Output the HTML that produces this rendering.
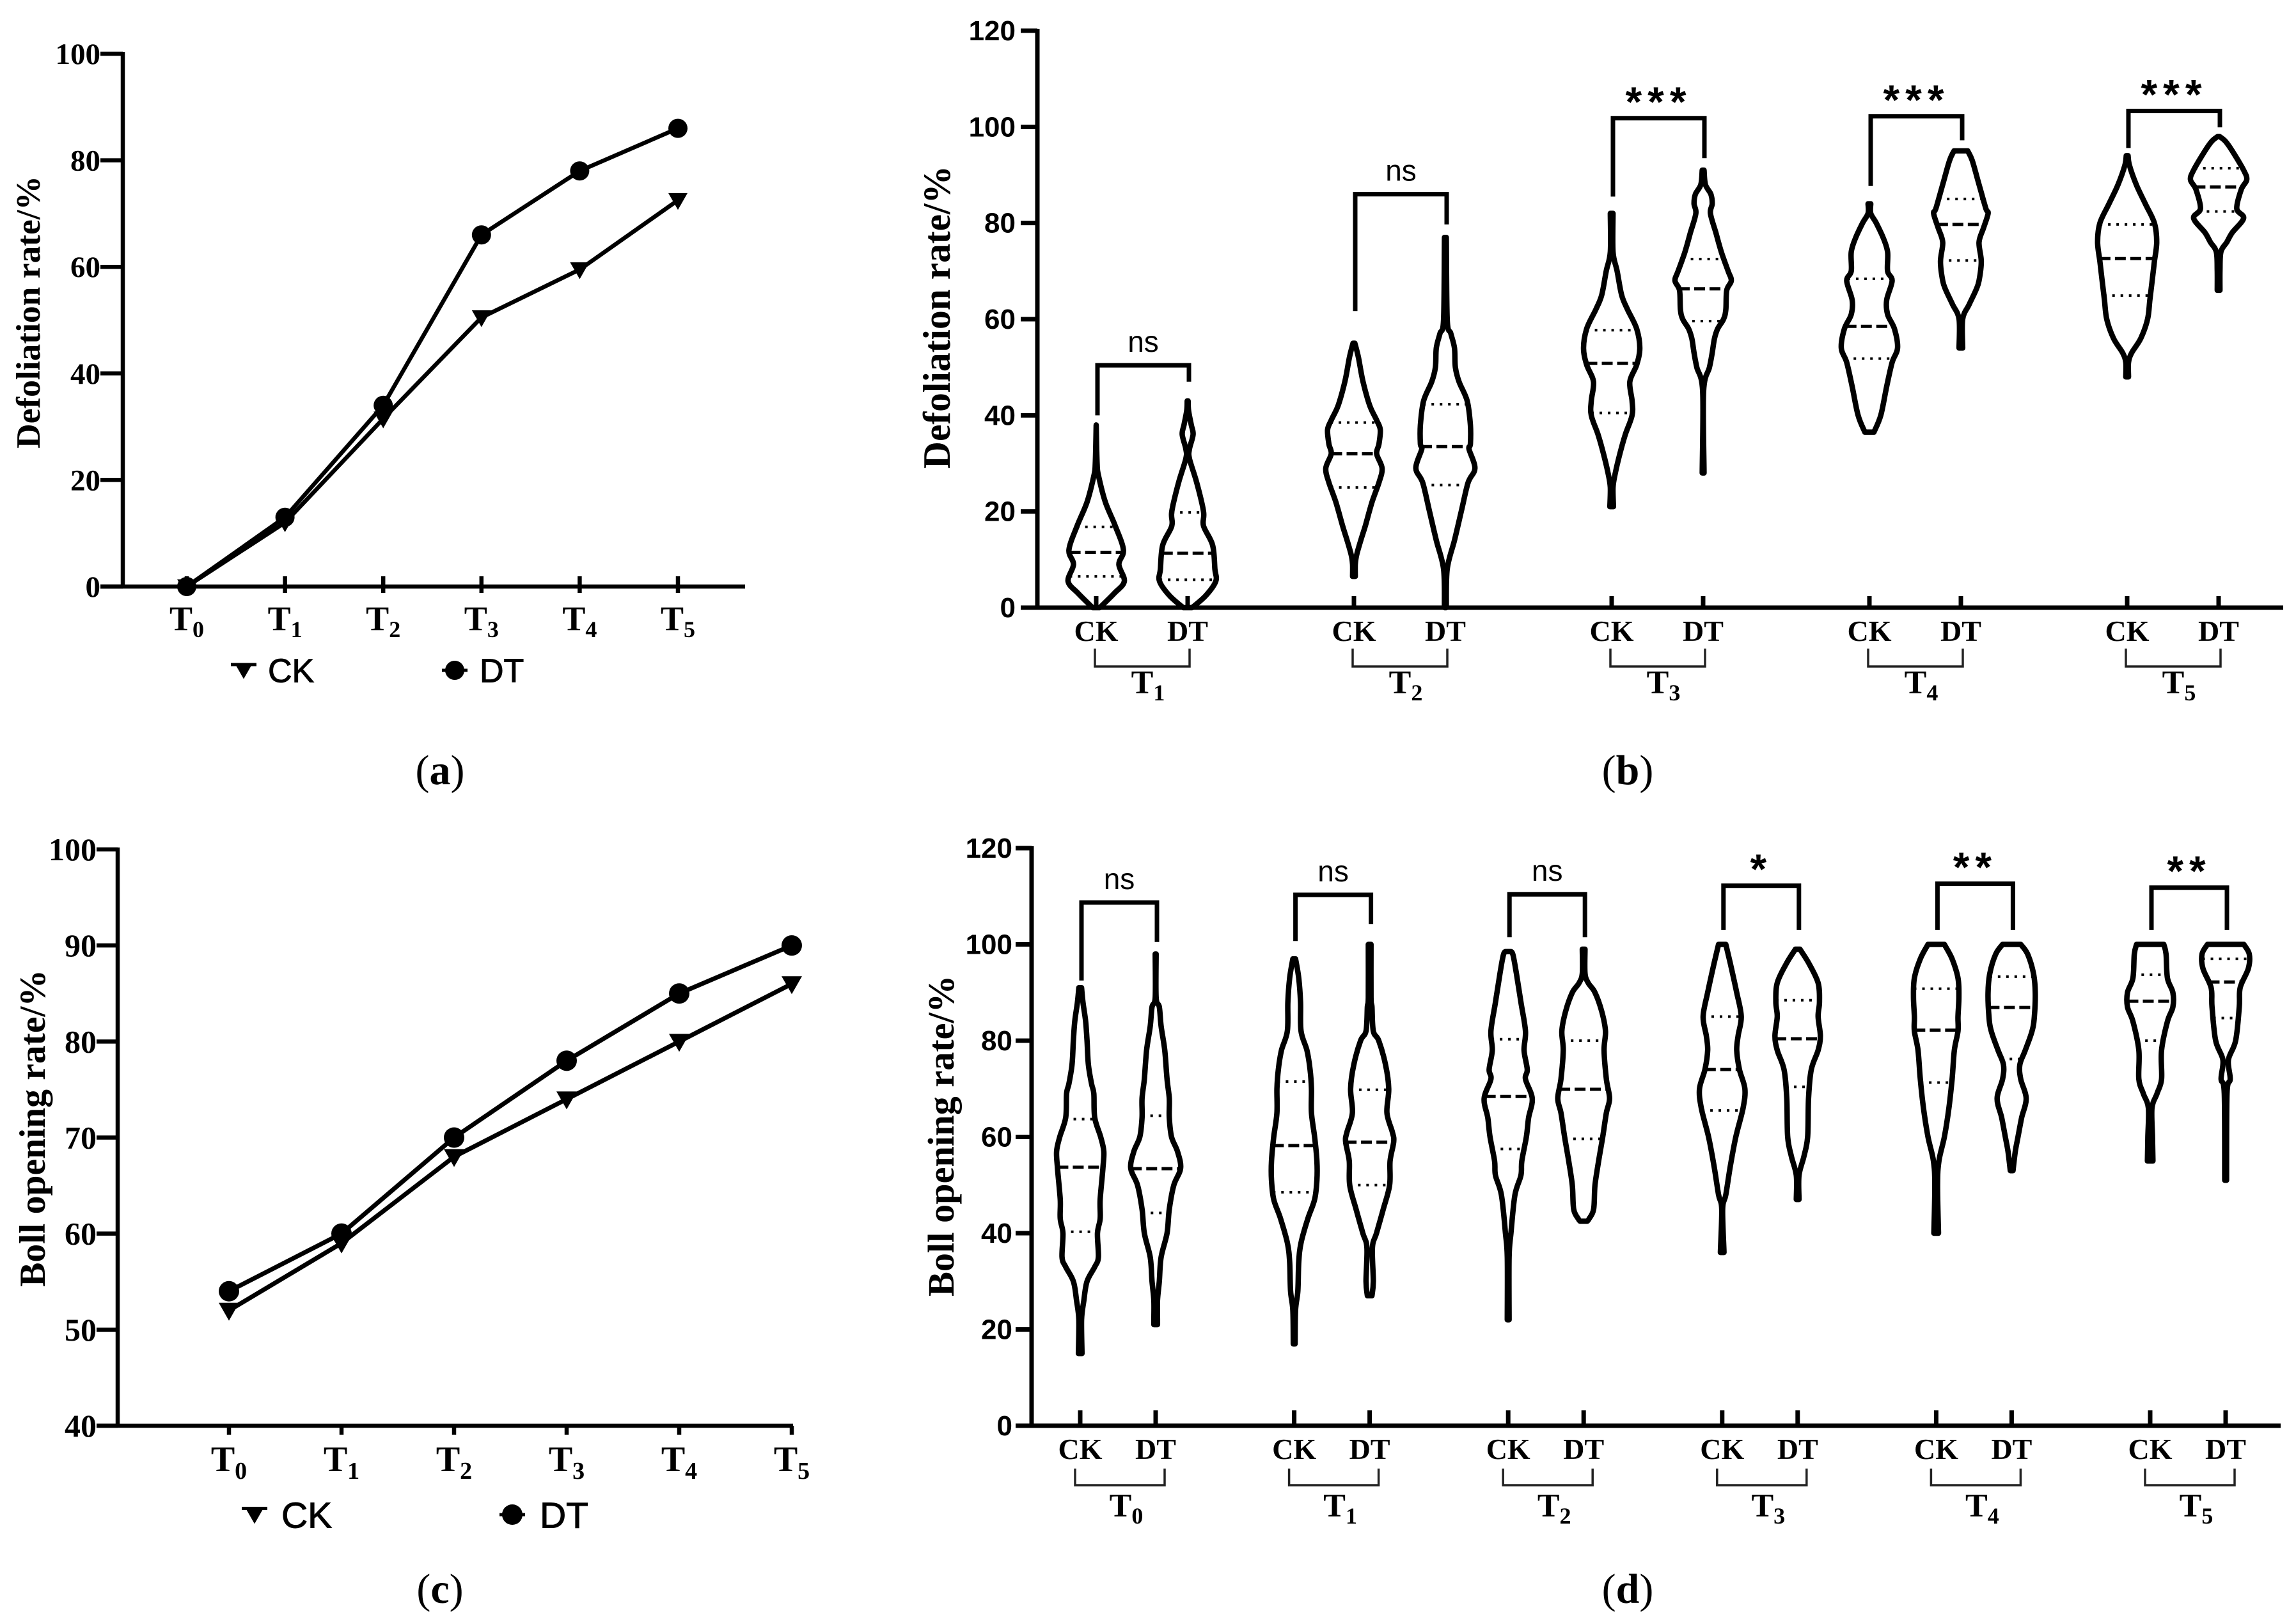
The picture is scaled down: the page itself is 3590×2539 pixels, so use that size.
<!DOCTYPE html>
<html lang="en">
<head>
<meta charset="utf-8">
<title>Defoliation and boll opening rates</title>
<style>
html,body{margin:0;padding:0;background:#fff}
svg{display:block}
text{fill:#000}
.serif{font-family:"Liberation Serif",serif}
.sans{font-family:"Liberation Sans",sans-serif}
</style>
</head>
<body>
<svg id="figure" xmlns="http://www.w3.org/2000/svg" width="3590" height="2539" viewBox="0 0 3590 2539">
  <rect width="3590" height="2539" fill="#fff"/>
  <g id="panel-a"></g>
  <g id="panel-b"></g>
  <g id="panel-c"></g>
  <g id="panel-d"></g>
  <text class="serif" x="688" y="1226" font-size="66" text-anchor="middle">(<tspan font-weight="bold">a</tspan>)</text>
  <text class="serif" x="2545" y="1226" font-size="66" text-anchor="middle">(<tspan font-weight="bold">b</tspan>)</text>
  <text class="serif" x="688" y="2506" font-size="66" text-anchor="middle">(<tspan font-weight="bold">c</tspan>)</text>
  <text class="serif" x="2545" y="2506" font-size="66" text-anchor="middle">(<tspan font-weight="bold">d</tspan>)</text>
</svg>
<script>
/* ---------- Panel a data ---------- */
const aCategories = ['T0','T1','T2','T3','T4','T5'];
const aCK = [0,12,31.5,50.5,59.5,72.5];
const aDT = [0,13,34,66,78,86];
const aYTicks = [0,20,40,60,80,100];

/* ---------- Panel c data ---------- */
const cCategories = ['T0','T1','T2','T3','T4','T5'];
const cCK = [52,59,68,74,80,86];
const cDT = [54,60,70,78,85,90];
const cYTicks = [40,50,60,70,80,90,100];

/* ---------- Panel b data ---------- */
const bGroups = ['T1','T2','T3','T4','T5'];
const bTreatments = ['CK','DT'];
const bYTicks = [0,20,40,60,80,100,120];
const bSignificance = ['ns','ns','***','***','***'];
const bBracketTop = [50.4,86,101.8,102.2,103.3];
const bBracketCKEnd = [40,61.7,85.5,87.7,95.6];
const bBracketDTEnd = [47,79.7,93.5,97.2,99.9];
const bQuartiles = [
  [6.5,11.5,16.8],[5.8,11.3,19.8],
  [25,32,38.5],[25.5,33.5,42.3],
  [40.5,50.8,57.7],[59.6,66.3,72.5],
  [51.8,58.5,68.4],[72.2,79.7,85],
  [64.9,72.6,79.7],[82.4,87.5,91.4]
];
const bLevels = [
  [38,30,27.5,22,17,12,9,5.5,3,0],
  [43,41,38,36,33,31,26,20,17,13,8,5.5,2.5,0],
  [55,52,47,42,39,37,34,32,29,26,22,17,14,11,9,6.5],
  [77,60,57,54,50,47,43,38,34,33,29,26,20,14,8,0],
  [82,74,70,65,62,58,54,50.5,47,43,40,36,32,28,25,21],
  [91,88,86,84,82,78,74,70,68,66,62,60,58,56,53,50,45,28],
  [84,82,80,77,74,70,68,64,61,58,54,51,46,40,36.5],
  [95,93,88,83,82,79,76,72,68,66,63,60,54],
  [94,92,88,84,80,76,72,68,64,60,56,53,51,48],
  [98,97,95,91,89,87,83,81,78,76,74,70,66]
];
const bDensity = [
  [0,2,5,20,42,60,50,62,40,8],
  [1,2,8,12,4,4,20,35,35,55,60,62,40,10],
  [2,10,20,35,50,58,55,50,62,55,40,25,15,6,3,3],
  [2,4,12,20,22,30,48,55,55,52,65,50,35,20,4,2],
  [3,3,12,22,35,55,62,55,40,45,45,30,18,8,3,4],
  [2,5,17,20,16,28,40,55,62,52,50,45,32,25,20,14,1,2],
  [3,3,15,30,40,40,50,38,40,55,62,50,38,25,10],
  [15,25,40,55,60,50,40,45,40,33,18,4,4],
  [2,5,20,40,60,65,60,55,50,45,30,10,3,3],
  [2,15,30,55,62,50,40,55,30,18,5,3,3]
];

/* ---------- Panel d data ---------- */
const dGroups = ['T0','T1','T2','T3','T4','T5'];
const dTreatments = ['CK','DT'];
const dYTicks = [0,20,40,60,80,100,120];
const dSignificance = ['ns','ns','ns','*','**','**'];
const dBracketTop = [108.7,110.3,110.4,112.2,112.6,111.8];
const dBracketCKEnd = [92.5,100.7,101.5,103,103,103];
const dBracketDTEnd = [100.5,104.2,101.5,103,103,103];
const dQuartiles = [
  [40.3,53.7,63.7],[44.2,53.4,64.4],
  [48.5,58.2,71.5],[50,58.9,69.8],
  [57.5,68.4,80.3],[59.6,69.9,80],
  [65.5,74,85],[70.4,80.4,88.4],
  [71.3,82.2,90.8],[76.2,86.9,93.3],
  [80,88.2,93.7],[84.7,92.2,97]
];
const dLevels = [
  [91,88,84,80,75,71,69,64,60,57,53.5,47,43,40,35,33,30,26,22,15],
  [98,89,87,83,78,72,68,64,60,57,53.5,50,45,40,35,30,26,22,21],
  [97,93,88,82,78,74,70,65,60,55,51,47,43,38,34,28,24,17],
  [100,89,87,82,80,75,70,65,61,59,55,50,45,40,37,30,27],
  [98.5,98,94,88,82,78,74,72,68,64,60,55,52,48,40,35,22],
  [99,94,92,90,86,82,78,72,68,65,60,55,50,45,43,42.5],
  [100,96,90,85,81,78,74,70,66,60,54,48,45,36],
  [99,96,92,88,85,81,78,74,68,60,56,52,47],
  [100,97,93,89,85,82,78,72,66,60,55,50,40],
  [100,98,94,90,85,82,78,75,72,68,64,60,57,53],
  [100,98,93,90,87,84,78,72,69,66,60,55],
  [100,98,95,91,87,80,76,72,69,51]
];
const dDensity = [
  [3,6,12,15,18,25,30,32,45,52,50,44,44,38,40,32,15,8,3,4],
  [1,1,8,12,20,25,30,30,35,48,55,40,30,25,12,8,4,4,4],
  [3,10,14,15,28,35,38,38,45,50,50,45,30,15,10,8,3,2],
  [3,3,5,8,20,35,42,38,50,53,45,44,30,15,6,8,5],
  [3,10,18,28,38,35,42,38,53,45,40,30,28,15,6,2,2],
  [3,3,10,25,40,48,45,50,57,50,42,33,25,22,12,8],
  [8,18,32,42,35,32,38,50,46,30,18,8,1,4],
  [5,25,45,48,45,50,45,30,24,22,14,3,3],
  [18,35,48,50,48,48,40,35,28,18,6,3,5],
  [20,35,48,52,50,45,30,18,20,32,22,14,8,3],
  [30,35,38,50,50,38,25,25,15,4,5,6],
  [40,52,50,32,30,22,6,10,3,2]
];

/* ---------- helpers ---------- */
const NS = 'http://www.w3.org/2000/svg';
function make(parent, tag, attrs, txt) {
  const el = document.createElementNS(NS, tag);
  for (const k in attrs) el.setAttribute(k, attrs[k]);
  if (txt !== undefined) el.textContent = txt;
  parent.appendChild(el);
  return el;
}
function linearScale(d0, d1, r0, r1) {
  return v => r0 + (v - d0) * (r1 - r0) / (d1 - d0);
}
function subLabel(parent, label, x, y, size, subSize, subDrop) {
  const t = make(parent, 'text', {x: x, y: y, 'font-size': size, 'font-weight': 'bold', 'text-anchor': 'middle', class: 'serif'}, label[0]);
  const s = make(t, 'tspan', {dy: subDrop, 'font-size': subSize}, label.slice(1));
  
  
  return t;
}
function drawYAxis(g, c, ticks, yScale) {
  const axis = make(g, 'line', {x1: c.axisX, x2: c.axisX, y1: yScale(ticks[ticks.length - 1]) - 3, y2: yScale(ticks[0]) + 3, stroke: '#000', 'stroke-width': c.axisW});
  
  
  ticks.forEach(v => {
    const tk = make(g, 'line', {x1: c.tickLeft, x2: c.axisX, y1: yScale(v), y2: yScale(v), stroke: '#000', 'stroke-width': c.axisW});
    
    
    const lb = make(g, 'text', {x: c.tickLabelX, y: yScale(v) + c.tickFont * 0.34, 'font-size': c.tickFont, 'font-weight': 'bold', 'text-anchor': 'end', class: c.tickClass}, v);
    
    
  });
  const title = make(g, 'text', {x: 0, y: 0, 'font-size': c.titleFont, 'font-weight': 'bold', 'text-anchor': 'middle', class: 'serif', textLength: c.titleLen, lengthAdjust: 'spacingAndGlyphs', transform: 'translate(' + c.titleX + ' ' + c.titleY + ') rotate(-90)'}, c.title);
  
  
}

/* ---------- line panels ---------- */
function drawMarkerCK(g, x, y, s) {
  const m = make(g, 'polygon', {points: (x - s) + ',' + (y - s * 0.75) + ' ' + (x + s) + ',' + (y - s * 0.75) + ' ' + x + ',' + (y + s), fill: '#000'});
  
  
}
function drawMarkerDT(g, x, y, r) {
  const m = make(g, 'circle', {cx: x, cy: y, r: r, fill: '#000'});
  
  
}
function drawLinePanel(g, c, cats, ck, dt, ticks) {
  const yScale = linearScale(ticks[0], ticks[ticks.length - 1], c.y0, c.y1);
  const xScale = i => c.x0 + i * c.step;
  drawYAxis(g, c, ticks, yScale);
  const xAxis = make(g, 'line', {x1: c.tickLeft, x2: c.xEnd, y1: c.y0, y2: c.y0, stroke: '#000', 'stroke-width': c.axisW});
  
  
  cats.forEach((cat, i) => {
    const tk = make(g, 'line', {x1: xScale(i), x2: xScale(i), y1: c.y0 + c.tickA, y2: c.y0 + c.tickB, stroke: '#000', 'stroke-width': c.axisW});
    
    
    const lb = subLabel(g, cat, xScale(i), c.catY, c.catFont, c.catSub, c.catDrop);
    
    
  });
  const ptsOf = arr => arr.map((v, i) => xScale(i) + ',' + yScale(v)).join(' ');
  const lineCK = make(g, 'polyline', {points: ptsOf(ck), fill: 'none', stroke: '#000', 'stroke-width': c.lineW, 'stroke-linejoin': 'round'});
  
  
  const lineDT = make(g, 'polyline', {points: ptsOf(dt), fill: 'none', stroke: '#000', 'stroke-width': c.lineW, 'stroke-linejoin': 'round'});
  
  
  ck.forEach((v, i) => drawMarkerCK(g, xScale(i), yScale(v), c.triS));
  dt.forEach((v, i) => drawMarkerDT(g, xScale(i), yScale(v), c.dotR));
  /* legend */
  const lg1 = make(g, 'line', {x1: c.legCK - c.legLine, x2: c.legCK + c.legLine, y1: c.legY - c.triS * 0.6, y2: c.legY - c.triS * 0.6, stroke: '#000', 'stroke-width': 5});
  
  
  drawMarkerCK(g, c.legCK, c.legY, c.triS * 0.9);
  const t1 = make(g, 'text', {x: c.legCKText, y: c.legY + c.legFont * 0.36, 'font-size': c.legFont, class: 'sans', stroke: '#000', 'stroke-width': 1}, 'CK');
  
  
  const lg2 = make(g, 'line', {x1: c.legDT - c.legLine, x2: c.legDT + c.legLine, y1: c.legY, y2: c.legY, stroke: '#000', 'stroke-width': 5});
  
  
  drawMarkerDT(g, c.legDT, c.legY, c.dotR);
  const t2 = make(g, 'text', {x: c.legDTText, y: c.legY + c.legFont * 0.36, 'font-size': c.legFont, class: 'sans', stroke: '#000', 'stroke-width': 1}, 'DT');
  
  
}

/* ---------- violin panels ---------- */
const densityScale = d => d * 0.71;
function smoothSide(pts) {
  let s = '';
  for (let i = 0; i < pts.length - 1; i++) {
    const p0 = pts[Math.max(i - 1, 0)], p1 = pts[i], p2 = pts[i + 1], p3 = pts[Math.min(i + 2, pts.length - 1)];
    s += ' C' + (p1[0] + (p2[0] - p0[0]) / 6).toFixed(1) + ' ' + (p1[1] + (p2[1] - p0[1]) / 6).toFixed(1) + ' ' +
         (p2[0] - (p3[0] - p1[0]) / 6).toFixed(1) + ' ' + (p2[1] - (p3[1] - p1[1]) / 6).toFixed(1) + ' ' +
         p2[0].toFixed(1) + ' ' + p2[1].toFixed(1);
  }
  return s;
}
function densityAt(levels, density, v) {
  for (let i = 0; i < levels.length - 1; i++) {
    if (v <= levels[i] && v >= levels[i + 1]) {
      const t = (levels[i] - v) / ((levels[i] - levels[i + 1]) || 1);
      return density[i] + t * (density[i + 1] - density[i]);
    }
  }
  return 0;
}
function drawViolinPanel(g, c, groups, treatments, ticks, levels, density, quartiles, sig, top, ckEnd, dtEnd) {
  const yScale = linearScale(ticks[0], ticks[ticks.length - 1], c.y0, c.y1);
  const xScale = (gi, ti) => c.x0 + gi * c.step + ti * c.offset;
  drawYAxis(g, c, ticks, yScale);
  const xAxis = make(g, 'line', {x1: c.tickLeft, x2: c.xEnd, y1: c.y0, y2: c.y0, stroke: '#000', 'stroke-width': c.axisW});
  
  
  groups.forEach((grp, gi) => {
    treatments.forEach((tr, ti) => {
      const x = xScale(gi, ti);
      const idx = gi * treatments.length + ti;
      const tk = make(g, 'line', {x1: x, x2: x, y1: c.y0 - c.tickLen, y2: c.y0, stroke: '#000', 'stroke-width': c.axisW});
      
      
      const lb = make(g, 'text', {x: x, y: c.catY, 'font-size': c.catFont, 'font-weight': 'bold', 'text-anchor': 'middle', class: 'serif'}, tr);
      
      
      const right = levels[idx].map((v, i) => [x + densityScale(density[idx][i]), yScale(v)]);
      const left = levels[idx].map((v, i) => [x - densityScale(density[idx][i]), yScale(v)]).reverse();
      const d = 'M' + right[0][0].toFixed(1) + ' ' + right[0][1].toFixed(1) + smoothSide(right) +
                ' L' + left[0][0].toFixed(1) + ' ' + left[0][1].toFixed(1) + smoothSide(left) + ' Z';
      const v = make(g, 'path', {d: d, fill: 'none', stroke: '#000', 'stroke-width': c.violinW, 'stroke-linejoin': 'round'});
      
      
      quartiles[idx].forEach((q, qi) => {
        const hw = densityScale(densityAt(levels[idx], density[idx], q));
        const isMed = qi === 1;
        const ql = make(g, 'line', {x1: x - hw, x2: x + hw, y1: yScale(q), y2: yScale(q), stroke: '#000', 'stroke-width': isMed ? 5 : 4, 'stroke-dasharray': isMed ? '17 7' : '4 9'});
        
        
      });
    });
    /* significance bracket */
    const xa = xScale(gi, 0) + c.brOff, xb = xScale(gi, 1) + c.brOff;
    const br = make(g, 'path', {d: 'M' + xa + ' ' + yScale(ckEnd[gi]) + ' V' + yScale(top[gi]) + ' H' + xb + ' V' + yScale(dtEnd[gi]), fill: 'none', stroke: '#000', 'stroke-width': 7});
    
    
    const mid = (xa + xb) / 2;
    const isStar = sig[gi].indexOf('*') >= 0;
    const st = make(g, 'text', {x: mid, y: yScale(top[gi]) - (isStar ? 3 : 21), 'font-size': isStar ? 66 : 46, 'font-weight': isStar ? 'bold' : 'normal', 'text-anchor': 'middle', class: 'sans', 'letter-spacing': isStar ? 9 : 0}, sig[gi]);
    
    
    /* group bracket */
    const ga = xScale(gi, 0) + c.grpA, gb = xScale(gi, 1) + c.grpB;
    const gbk = make(g, 'path', {d: 'M' + ga + ' ' + c.grpTop + ' V' + c.grpBottom + ' H' + gb + ' V' + c.grpTop, fill: 'none', stroke: '#222', 'stroke-width': 3.5});
    
    
    const gl = subLabel(g, grp, (ga + gb) / 2 + c.grpLabelOff, c.grpLabelY, c.grpFont, c.grpSub, 11);
    
    
  });
}

drawLinePanel(document.getElementById('panel-a'), {
  y0: 917, y1: 84, x0: 292, step: 153.6, xEnd: 1165, axisX: 192, tickLeft: 157, tickLabelX: 157, axisW: 6.5,
  tickClass: 'serif', tickFont: 47, title: 'Defoliation rate/%', titleFont: 53, titleLen: 426, titleX: 62, titleY: 488,
  tickA: -16, tickB: 10, catY: 985, catFont: 54, catSub: 36, catDrop: 11, lineW: 6.5, triS: 15, dotR: 15,
  legCK: 381, legY: 1048, legLine: 20, legCKText: 419, legFont: 52, legDT: 711, legDTText: 750
}, aCategories, aCK, aDT, aYTicks);

drawLinePanel(document.getElementById('panel-c'), {
  y0: 2229, y1: 1328, x0: 358, step: 176, xEnd: 1240, axisX: 184, tickLeft: 151, tickLabelX: 151, axisW: 6.5,
  tickClass: 'serif', tickFont: 50, title: 'Boll opening rate/%', titleFont: 57, titleLen: 496, titleX: 70, titleY: 1764,
  tickA: 0, tickB: 14, catY: 2300, catFont: 56, catSub: 38, catDrop: 12, lineW: 7, triS: 16, dotR: 16,
  legCK: 398, legY: 2368, legLine: 20, legCKText: 440, legFont: 57, legDT: 801, legDTText: 844
}, cCategories, cCK, cDT, cYTicks);

drawViolinPanel(document.getElementById('panel-b'), {
  y0: 950, y1: 48, x0: 1714, step: 403, offset: 143, xEnd: 3570, axisX: 1622, tickLeft: 1596, tickLabelX: 1588, axisW: 7,
  tickClass: 'sans', tickFont: 44, title: 'Defoliation rate/%', titleFont: 60, titleLen: 474, titleX: 1485, titleY: 496,
  tickLen: 18, catY: 1002, catFont: 46, violinW: 8.5, brOff: 2,
  grpA: -2, grpB: 3, grpTop: 1014, grpBottom: 1042, grpLabelOff: 9, grpLabelY: 1084, grpFont: 52, grpSub: 36
}, bGroups, bTreatments, bYTicks, bLevels, bDensity, bQuartiles, bSignificance, bBracketTop, bBracketCKEnd, bBracketDTEnd);

drawViolinPanel(document.getElementById('panel-d'), {
  y0: 2229, y1: 1326, x0: 1689, step: 334.6, offset: 118, xEnd: 3566, axisX: 1613, tickLeft: 1588, tickLabelX: 1583, axisW: 7,
  tickClass: 'sans', tickFont: 44, title: 'Boll opening rate/%', titleFont: 58, titleLen: 502, titleX: 1491, titleY: 1776,
  tickLen: 24, catY: 2281, catFont: 46, violinW: 8.5, brOff: 2,
  grpA: -8, grpB: 14, grpTop: 2296, grpBottom: 2322, grpLabelOff: 10, grpLabelY: 2371, grpFont: 52, grpSub: 36
}, dGroups, dTreatments, dYTicks, dLevels, dDensity, dQuartiles, dSignificance, dBracketTop, dBracketCKEnd, dBracketDTEnd);
</script>
</body>
</html>
